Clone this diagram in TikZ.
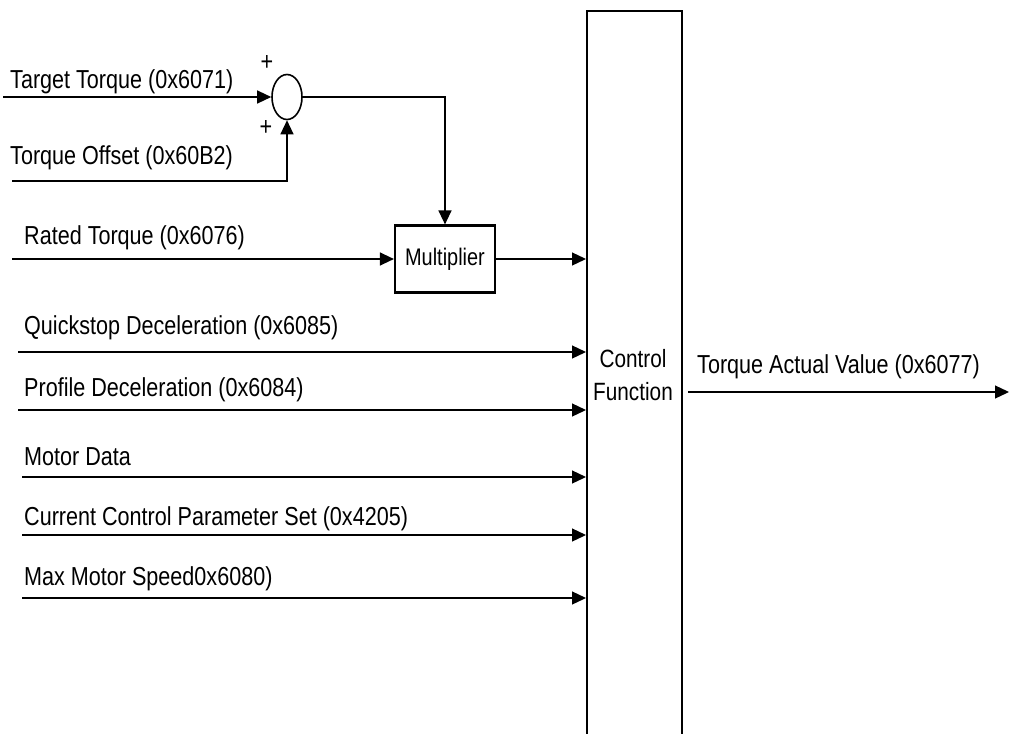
\documentclass[tikz,border=0pt]{standalone}
\usepackage{fontspec}
\setmainfont[FakeStretch=0.83]{Liberation Sans}
\usetikzlibrary{arrows.meta,shapes.geometric}
\begin{document}
\begin{tikzpicture}[x=1pt,y=-1pt,
  every node/.style={font=\fontsize{26}{30}\selectfont},
  lbl/.style={anchor=base west, inner sep=0pt},
  arr/.style={line width=1.3pt, -{Triangle[length=14pt,width=13pt]}},
  boxs/.style={draw, line width=2.2pt}]
\useasboundingbox (0,0) rectangle (1010,734);

% control block
\node[boxs, anchor=north west, minimum width=95, minimum height=740, inner sep=0pt] (ctrl) at (586,10) {};
\node[align=center, inner sep=0pt, font=\fontsize{25}{33}\selectfont] (ctxt) at (633,375) {Control\\Function};

% summing junction
\node[draw, ellipse, line width=1.6pt, minimum width=30, minimum height=45, inner sep=0pt] (sum) at (287,97) {};
\node[inner sep=0pt] (p1) at (267,63) {+};
\node[inner sep=0pt] (p2) at (266,128) {+};

% multiplier
\node[boxs, minimum width=100, minimum height=67, inner sep=0pt, font=\fontsize{24}{28}\selectfont] (mult) at (445,259) {Multiplier};

% labels
\node[lbl] (t1) at (10,88) {Target Torque (0x6071)};
\node[lbl] (t2) at (10,164) {Torque Offset (0x60B2)};
\node[lbl] (t3) at (24,244) {Rated Torque (0x6076)};
\node[lbl] (t4) at (24,334) {Quickstop Deceleration (0x6085)};
\node[lbl] (t5) at (24,396) {Profile Deceleration (0x6084)};
\node[lbl] (t6) at (24,465) {Motor Data};
\node[lbl] (t7) at (24,525) {Current Control Parameter Set (0x4205)};
\node[lbl] (t8) at (24,585) {Max Motor Speed0x6080)};
\node[lbl] (t9) at (697,373) {Torque Actual Value (0x6077)};

% start coordinates
\coordinate (s1) at (3,97);
\coordinate (s2) at (12,181);
\coordinate (s3) at (12,259);
\coordinate (s4) at (18,352);
\coordinate (s5) at (18,410);
\coordinate (s6) at (22,477);
\coordinate (s7) at (22,535);
\coordinate (s8) at (22,598);
\coordinate (o1) at (1009,392);

% connectors
\draw[arr] (s1) -- (sum.west);
\draw[arr] (s2) -| (sum.south);
\draw[arr] (sum.east) -| (mult.north);
\draw[arr] (s3) -- (mult.west);
\draw[arr] (mult.east) -- (mult.east -| ctrl.west);
\draw[arr] (s4) -- (s4 -| ctrl.west);
\draw[arr] (s5) -- (s5 -| ctrl.west);
\draw[arr] (s6) -- (s6 -| ctrl.west);
\draw[arr] (s7) -- (s7 -| ctrl.west);
\draw[arr] (s8) -- (s8 -| ctrl.west);
\draw[arr, shorten <=5pt] (o1 -| ctrl.east) -- (o1);
\end{tikzpicture}
\end{document}
